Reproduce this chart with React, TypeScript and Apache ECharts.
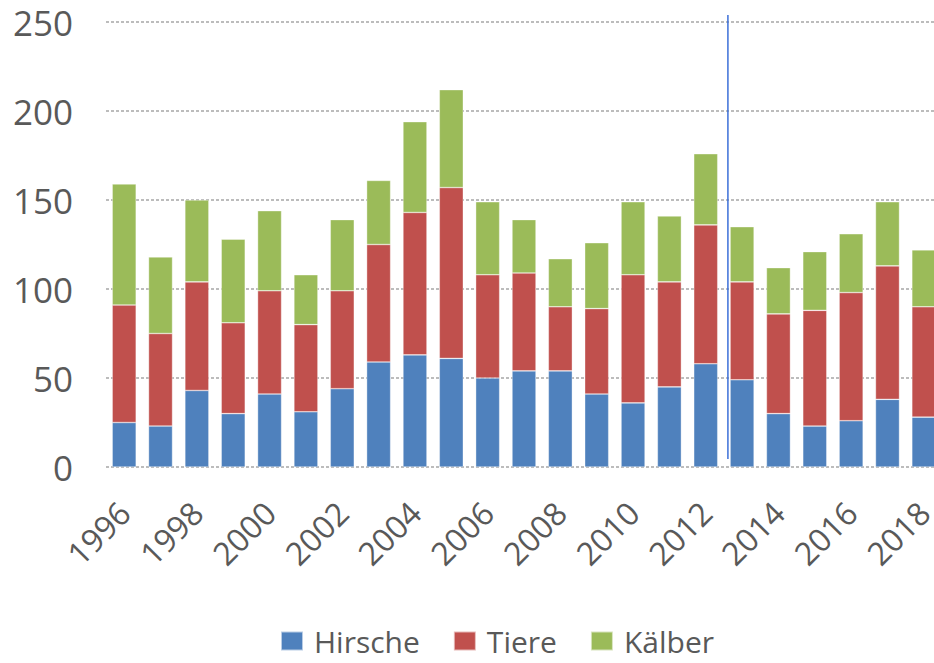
import React, { useEffect, useRef } from "react";
import * as echarts from "echarts";

const years = ["1996","1997","1998","1999","2000","2001","2002","2003","2004","2005","2006","2007","2008","2009","2010","2011","2012","2013","2014","2015","2016","2017","2018"];
const hirsche = [25,23,43,30,41,31,44,59,63,61,50,54,54,41,36,45,58,49,30,23,26,38,28];
const tiere = [66,52,61,51,58,49,55,66,80,96,58,55,36,48,72,59,78,55,56,65,72,75,62];
const kaelber = [68,43,46,47,45,28,40,36,51,55,41,30,27,37,41,37,40,31,26,33,33,36,32];
const seriesNames = ["Hirsche", "Tiere", "Kälber"];
const colors = ["#4F81BD", "#C0504D", "#9BBB59"];

export default function App() {
  const ref = useRef<HTMLDivElement>(null);
  useEffect(() => {
    if (!ref.current) return;
    const chart = echarts.init(ref.current, null, { renderer: "svg" });
    const font = "'Open Sans', sans-serif";
    const datasets = [hirsche, tiere, kaelber];
    chart.setOption({
      animation: false,
      grid: { left: 106, right: 8, top: 22, bottom: 196, containLabel: false },
      legend: {
        left: 275,
        top: 621,
        itemWidth: 22,
        itemHeight: 19,
        itemGap: 33,
        icon: "rect",
        textStyle: { fontFamily: font, fontSize: 30, color: "#595959", padding: [0, 0, 0, 6] },
        data: seriesNames,
      },
      xAxis: {
        type: "category",
        data: years,
        axisLine: { show: false },
        axisTick: { show: false },
        axisLabel: {
          interval: 1,
          rotate: 45,
          fontFamily: font,
          fontSize: 32,
          color: "#595959",
          margin: 40,
        },
      },
      yAxis: {
        type: "value",
        min: 0,
        max: 250,
        interval: 50,
        axisLine: { show: false },
        axisTick: { show: false },
        axisLabel: { fontFamily: font, fontSize: 35, color: "#595959", margin: 33 },
        splitLine: { lineStyle: { color: "#a6a6a6", type: [3, 2], width: 1.5 } },
      },
      series: datasets.map((d, i) => ({
        name: seriesNames[i],
        type: "bar",
        stack: "total",
        data: d,
        barWidth: "66%",
        itemStyle: { color: colors[i], borderColor: "rgba(255,255,255,0.6)", borderWidth: 0.6 },
      })),
    });
    const x12 = chart.convertToPixel({ xAxisIndex: 0 }, "2012") as number;
    const x13 = chart.convertToPixel({ xAxisIndex: 0 }, "2013") as number;
    const lx = (x12 + x13) / 2 + 4;
    chart.setOption({
      graphic: [
        {
          type: "line",
          shape: { x1: lx, y1: 15, x2: lx, y2: 459 },
          style: { stroke: "#3c6fd8", lineWidth: 1.5 },
          z: 100,
        },
      ],
    });
    return () => chart.dispose();
  }, []);
  return (
    <div style={{ position: "fixed", left: 0, top: 0, width: 934, height: 663, overflow: "hidden", background: "#fff" }}>
      <div ref={ref} style={{ width: 950, height: 663 }} />
    </div>
  );
}
